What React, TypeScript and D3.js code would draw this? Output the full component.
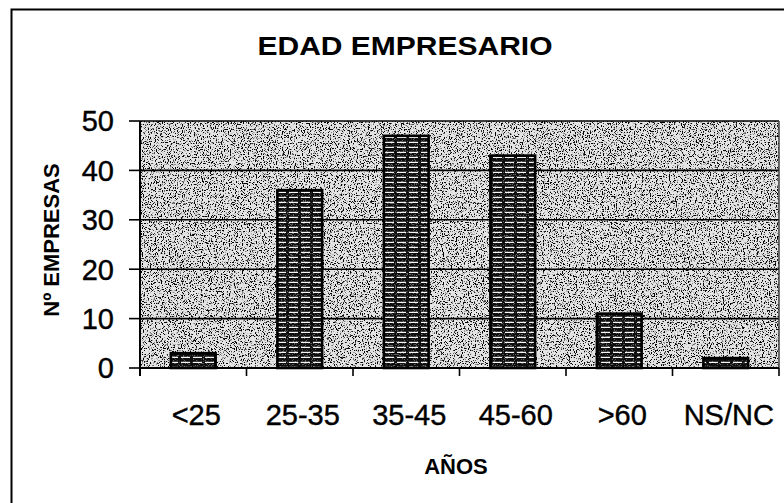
import * as d3 from "d3";

// chart data
const categories = ["<25", "25-35", "35-45", "45-60", ">60", "NS/NC"];
const empresas = [3, 36, 47, 43, 11, 2];
const yTicks = [0, 10, 20, 30, 40, 50];

const W = 784;
const H = 503;
const plot = { left: 140, right: 779, top: 121, bottom: 368 };

function App() {
  const x = d3
    .scaleBand<string>()
    .domain(categories)
    .range([plot.left, plot.right])
    .paddingInner(0.58)
    .paddingOuter(0.29);

  const y = d3.scaleLinear().domain([0, 50]).range([plot.bottom, plot.top]);

  const step = x.step();
  // boundaries between categories, for the x ticks
  const bounds = d3.range(categories.length + 1).map((i) => plot.left + i * step);

  const font = "Arial, 'Liberation Sans', sans-serif";

  return (
    <svg
      width={W}
      height={H}
      style={{ position: "absolute", left: 0, top: 0, background: "#fff" }}
    >
      <defs>
        {/* speckled grey of the plot background */}
        <filter id="speckle" x="0" y="0" width="100%" height="100%">
          <feTurbulence type="fractalNoise" baseFrequency="0.85" numOctaves="2" seed="3" />
          <feColorMatrix
            type="matrix"
            values="0 0 0 0 0  0 0 0 0 0  0 0 0 0 0  -9 0 0 0 4.1"
          />
        </filter>
        <filter id="speckleLight" x="0" y="0" width="100%" height="100%">
          <feTurbulence type="fractalNoise" baseFrequency="0.9" numOctaves="2" seed="7" />
          <feColorMatrix
            type="matrix"
            values="0 0 0 0 1  0 0 0 0 1  0 0 0 0 1  -9 0 0 0 3.9"
          />
        </filter>
        <pattern id="barFill" width="12" height="5" patternUnits="userSpaceOnUse">
          <rect width="12" height="5" fill="#0e0e0e" />
          <rect x="1" y="1.8" width="9" height="1.2" fill="#f4f4f4" />
        </pattern>
        <clipPath id="plotClip">
          <rect
            x={plot.left}
            y={plot.top}
            width={plot.right - plot.left}
            height={plot.bottom - plot.top}
          />
        </clipPath>
      </defs>

      {/* outer frame, cut by the picture's edges on the right and bottom */}
      <rect x={11.5} y={9.5} width={820} height={540} fill="none" stroke="#000" strokeWidth={2} />

      <text
        x={405}
        y={55}
        textAnchor="middle"
        fontFamily={font}
        fontWeight="bold"
        fontSize={25}
        textLength={295}
        lengthAdjust="spacingAndGlyphs"
      >
        EDAD EMPRESARIO
      </text>

      {/* plot area */}
      <rect
        x={plot.left}
        y={plot.top}
        width={plot.right - plot.left}
        height={plot.bottom - plot.top}
        fill="#e4e4e4"
      />
      <g clipPath="url(#plotClip)">
        <rect
          x={plot.left}
          y={plot.top}
          width={plot.right - plot.left}
          height={plot.bottom - plot.top}
          filter="url(#speckle)"
        />
      </g>

      {/* gridlines */}
      {yTicks.map((t) => (
        <line
          key={"g" + t}
          x1={plot.left}
          x2={plot.right}
          y1={y(t)}
          y2={y(t)}
          stroke="#000"
          strokeWidth={1.6}
        />
      ))}
      <line x1={plot.right} x2={plot.right} y1={plot.top} y2={plot.bottom} stroke="#333" strokeWidth={1.4} />

      {/* bars */}
      {empresas.map((v, i) => (
        <g key={categories[i]}>
          <rect
            x={x(categories[i])}
            y={y(v)}
            width={x.bandwidth()}
            height={plot.bottom - y(v)}
            fill="url(#barFill)"
            stroke="#000"
            strokeWidth={2.6}
          />
          <rect
            x={x(categories[i])! + 2}
            y={y(v) + 2}
            width={x.bandwidth() - 4}
            height={Math.max(0, plot.bottom - y(v) - 3)}
            filter="url(#speckleLight)"
            opacity={0.35}
          />
        </g>
      ))}

      {/* y axis */}
      <line x1={plot.left} x2={plot.left} y1={plot.top} y2={plot.bottom + 8} stroke="#000" strokeWidth={2} />
      {yTicks.map((t) => (
        <g key={"y" + t}>
          <line x1={plot.left - 11} x2={plot.left} y1={y(t)} y2={y(t)} stroke="#000" strokeWidth={1.6} />
          <text
            x={114}
            y={y(t)}
            dy="0.36em"
            textAnchor="end"
            fontFamily={font}
            fontSize={29}
            stroke="#000"
            strokeWidth={0.4}
          >
            {t}
          </text>
        </g>
      ))}

      {/* x axis */}
      <line x1={plot.left} x2={plot.right} y1={plot.bottom} y2={plot.bottom} stroke="#000" strokeWidth={2} />
      {bounds.map((b, i) => (
        <line key={"xt" + i} x1={b} x2={b} y1={plot.bottom} y2={plot.bottom + 8} stroke="#000" strokeWidth={1.6} />
      ))}
      {categories.map((c) => (
        <text
          key={"xl" + c}
          x={x(c)! + x.bandwidth() / 2 + 3}
          y={425}
          textAnchor="middle"
          fontFamily={font}
          fontSize={29}
          stroke="#000"
          strokeWidth={0.4}
        >
          {c}
        </text>
      ))}

      <text
        x={456}
        y={474}
        textAnchor="middle"
        fontFamily={font}
        fontWeight="bold"
        fontSize={22}
      >
        AÑOS
      </text>

      <text
        transform="translate(59,240) rotate(-90)"
        textAnchor="middle"
        fontFamily={font}
        fontWeight="bold"
        fontSize={22}
      >
        Nº EMPRESAS
      </text>
    </svg>
  );
}

export default App;
